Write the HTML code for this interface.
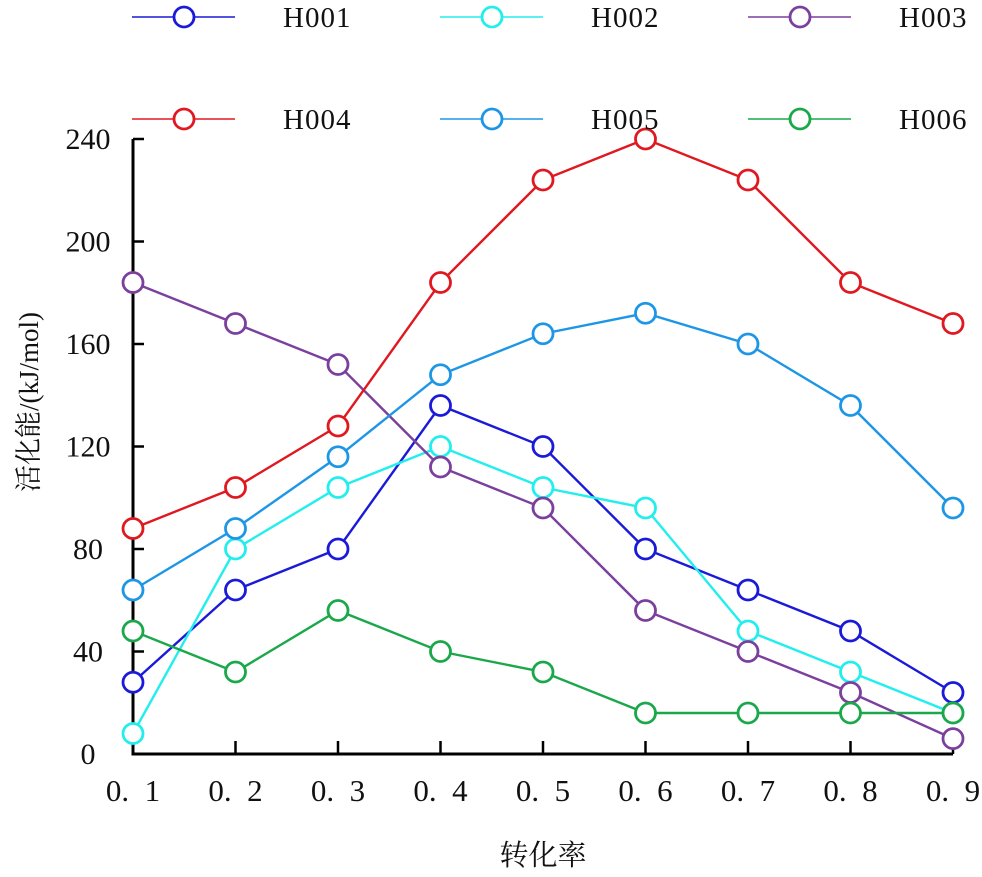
<!DOCTYPE html>
<html><head><meta charset="utf-8"><style>
body{margin:0;background:#fff}
svg text{font-family:"Liberation Serif","Noto Serif CJK SC",serif;fill:#111}
</style></head><body>
<svg id="c" width="982" height="872" xmlns="http://www.w3.org/2000/svg"></svg>
<script>
const categories=["0.1","0.2","0.3","0.4","0.5","0.6","0.7","0.8","0.9"];
const seriesNames=["H001","H002","H003","H004","H005","H006"];
const colors=["#1a1ad8","#22eeee","#7b3f9e","#e01820","#1e96e6","#1aa84a"];
const h001=[28,64,80,136,120,80,64,48,24];
const h002=[8,80,104,120,104,96,48,32,16];
const h003=[184,168,152,112,96,56,40,24,6];
const h004=[88,104,128,184,224,240,224,184,168];
const h005=[64,88,116,148,164,172,160,136,96];
const h006=[48,32,56,40,32,16,16,16,16];
const yTicks=[0,40,80,120,160,200,240];
const series=[h001,h002,h003,h004,h005,h006];
const NS="http://www.w3.org/2000/svg",svg=document.getElementById('c');
const X0=133,X1=953,Y0=754,Y1=139;
const xs=i=>X0+i*(X1-X0)/(categories.length-1);
const ys=v=>Y0-v*(Y0-Y1)/240;
function mk(t,a,p){const e=document.createElementNS(NS,t);for(const k in a)e.setAttribute(k,a[k]);(p||svg).appendChild(e);return e;}
let ax=mk('path',{d:`M${X0} ${Y1}V${Y0}H${X1}`,stroke:'#000','stroke-width':3,fill:'none'});


yTicks.forEach(v=>{
  const t=mk('line',{x1:X0,x2:X0+11,y1:ys(v),y2:ys(v),stroke:'#000','stroke-width':2.5});
  
  
  const l=mk('text',{x:X0-45,y:ys(v)+10,'text-anchor':'middle','font-size':30});
  l.textContent=v;
  
  
});
categories.forEach((c,i)=>{
  if(i>0){const t=mk('line',{x1:xs(i),x2:xs(i),y1:Y0,y2:Y0-13,stroke:'#000','stroke-width':2.5});
  
  }
  const l=mk('text',{x:xs(i),y:Y0+47,'text-anchor':'middle','font-size':31});
  l.textContent=c.replace('.','.\u2002');
  
  
});
let xt=mk('text',{x:543,y:865,'text-anchor':'middle','font-size':29});xt.textContent='转化率';


let yt=mk('text',{x:0,y:0,'text-anchor':'middle','font-size':27,transform:'translate(38,402) rotate(-90)'});yt.textContent='活化能/(kJ/mol)';


series.forEach((d,s)=>{
  const g=mk('g',{});
  
  
  mk('polyline',{points:d.map((v,i)=>xs(i)+','+ys(v)).join(' '),fill:'none',stroke:colors[s],'stroke-width':2.4},g);
  d.forEach((v,i)=>{const c=mk('circle',{cx:xs(i),cy:ys(v),r:10,fill:'#fff',stroke:colors[s],'stroke-width':2.8},g);
  
  });
  const lx=132+(s%3)*308, ly=s<3?17:119;
  const lg=mk('g',{});
  
  
  mk('line',{x1:lx,x2:lx+103,y1:ly,y2:ly,stroke:colors[s],'stroke-width':1.5},lg);
  mk('circle',{cx:lx+52,cy:ly,r:10,fill:'#fff',stroke:colors[s],'stroke-width':2.8},lg);
  const t=mk('text',{x:lx+151,y:ly+10,'font-size':29,'letter-spacing':'1'},lg);t.textContent=seriesNames[s];
});
</script>
</body></html>
